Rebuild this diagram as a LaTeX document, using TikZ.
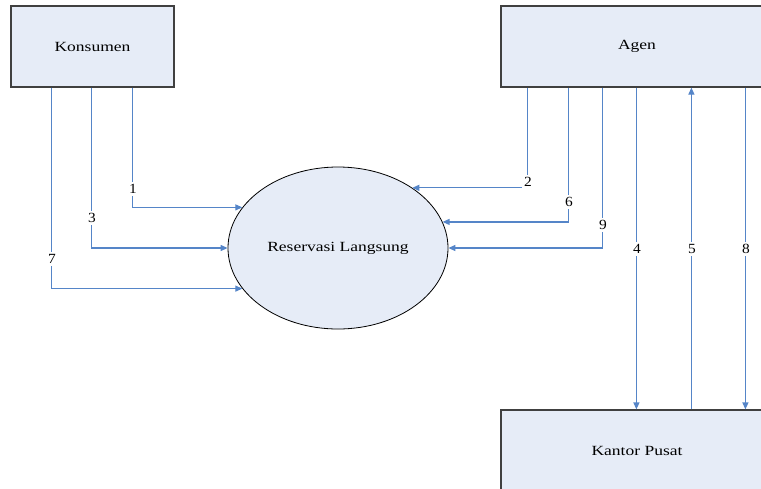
\documentclass[tikz,border=0pt]{standalone}
\usepackage{fontspec}
\setmainfont{Liberation Serif}
\newfontfamily\boxfont[FakeStretch=1.25]{Liberation Serif}
\newfontfamily\numfont[FakeStretch=1.1]{Liberation Serif}
\usetikzlibrary{shapes.geometric,arrows.meta}
\definecolor{flowblue}{HTML}{5585C8}
\definecolor{boxfill}{HTML}{E6ECF7}
\begin{document}
\begin{tikzpicture}[x=1pt,y=-1pt,
  entity/.style={draw=black!75, line width=1.2pt, fill=boxfill, rectangle, inner sep=0pt,
    font=\boxfont\fontsize{14}{16}\selectfont},
  process/.style={ellipse, draw=black, line width=0.8pt, fill=boxfill, inner sep=0pt,
    minimum width=220pt, minimum height=162pt, font=\boxfont\fontsize{14}{16}\selectfont},
  flow/.style={draw=flowblue, line width=1.2pt, -{Triangle[length=7pt,width=6pt]}},
  lbl/.style={fill=white, inner sep=2pt, font=\numfont\fontsize{14}{16}\selectfont}]
\useasboundingbox (0,0) rectangle (761,488);
\clip (0,0) rectangle (761,488);
\node[entity, minimum width=163pt, minimum height=81pt] (kons) at (92.5,46.5) {Konsumen};
\node[entity, minimum width=272pt, minimum height=81pt] (agen) at (637,46.5) {Agen};
\node[entity, minimum width=272pt, minimum height=82pt] (kp) at (637,451) {Kantor Pusat};
\node[process] (ell) at (338,248) {Reservasi Langsung};
% Konsumen flows
\draw[flow] ([xshift=122pt]kons.south west) |- (ell.157.3);
\draw[flow] ([xshift=81pt]kons.south west) |- (ell.west);
\draw[flow] ([xshift=41pt]kons.south west) |- (ell.203.4);
% Agen flows to process
\draw[flow] ([xshift=27pt]agen.south west) |- (ell.39.1);
\draw[flow] ([xshift=68pt]agen.south west) |- (ell.14.6);
\draw[flow] ([xshift=102pt]agen.south west) |- (ell.east);
% Agen <-> Kantor Pusat
\draw[flow] ([xshift=136pt]agen.south west) -- ([xshift=136pt]kp.north west);
\draw[flow] ([xshift=191pt]kp.north west) -- ([xshift=191pt]agen.south west);
\draw[flow] ([xshift=245pt]agen.south west) -- ([xshift=245pt]kp.north west);
% labels
\node[lbl] (l1) at (133,189) {1};
\node[lbl] (l3) at (92,218) {3};
\node[lbl] (l7) at (52,259) {7};
\node[lbl] (l2) at (528,182) {2};
\node[lbl] (l6) at (569,202) {6};
\node[lbl] (l9) at (603,225) {9};
\node[lbl] (l4) at (637,249) {4};
\node[lbl] (l5) at (692,249) {5};
\node[lbl] (l8) at (746,249) {8};
\end{tikzpicture}
\end{document}
